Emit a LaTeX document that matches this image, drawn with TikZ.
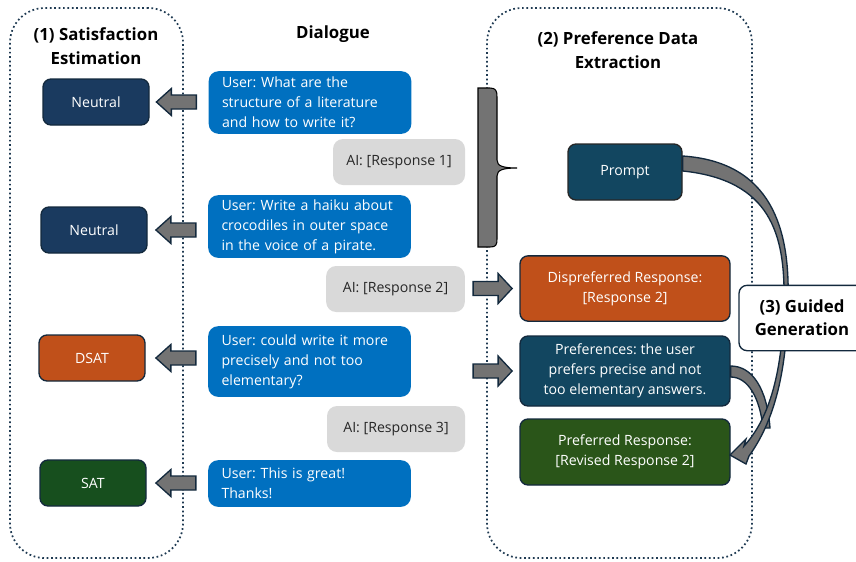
\documentclass[tikz,border=0pt]{standalone}
\usepackage{fontspec}
\setmainfont{Open Sans}
\frenchspacing
\usetikzlibrary{calc}
\definecolor{cnavy}{HTML}{1A3A5F}
\definecolor{cteal}{HTML}{124660}
\definecolor{corange}{HTML}{C0501A}
\definecolor{cgreenA}{HTML}{174F1E}
\definecolor{cgreenB}{HTML}{2A5519}
\definecolor{cblue}{HTML}{0070C0}
\definecolor{cgray}{HTML}{D9D9D9}
\definecolor{cdot}{HTML}{1F3A52}
\definecolor{carrow}{HTML}{737373}
\definecolor{cline}{HTML}{13293D}
\definecolor{ctext}{HTML}{262626}
\begin{document}
\begin{tikzpicture}[x=0.75pt,y=-0.75pt,
  font=\fontsize{10.6}{15}\selectfont,
  container/.style={draw=cdot, dotted, line width=1.3pt, rounded corners=26pt, minimum width=129.75pt, minimum height=412.5pt},
  title/.style={font=\bfseries\fontsize{12.6}{17.5}\selectfont, align=center, text=black},
  box/.style={rounded corners=6pt, draw=cline, line width=1pt, text=white, align=center, inner sep=2pt},
  lbox/.style={box, minimum width=79.5pt, minimum height=34.5pt},
  rbox/.style={box, minimum width=157.5pt},
  ububble/.style={rounded corners=7.5pt, fill=cblue, text=white, align=left, text width=132pt, inner xsep=10pt, inner ysep=2pt},
  aibubble/.style={rounded corners=7.5pt, fill=cgray, text=ctext, align=center, minimum height=34.5pt},
  blockarrow/.style={fill=carrow, draw=cline, line width=1pt, line join=miter},
  larr/.pic={\path[blockarrow] (-52,0) -- (-37,-13.5) -- (-37,-7) -- (-12,-7) -- (-12,7) -- (-37,7) -- (-37,13.5) -- cycle;},
  rarr/.pic={\path[blockarrow] (8,-7) -- (33,-7) -- (33,-15) -- (47,0) -- (33,15) -- (33,7) -- (8,7) -- cycle;}
]
\useasboundingbox (0,0) rectangle (856,561);

% containers
\node[container] (c1) at (96.5,283) {};
\node[container, minimum width=198.75pt] (c2) at (619.5,283) {};

% titles
\node[title] (t1) at (96,46) {(1) Satisfaction\\Estimation};
\node[title] (t2) at (333,34) {Dialogue};
\node[title] (t3) at (618,50) {(2) Preference Data\\Extraction};

% left estimation nodes
\node[lbox, fill=cnavy] (n1) at (96,102) {Neutral};
\node[lbox, fill=cnavy] (n2) at (94,230) {Neutral};
\node[lbox, fill=corange] (n3) at (92,358) {DSAT};
\node[lbox, fill=cgreenA] (n4) at (93,483) {SAT};

% dialogue
\node[ububble, minimum height=47pt] (u1) at (310,102.5) {User: What are the\\structure of a literature\\and how to write it?};
\node[aibubble, minimum width=99pt] (a1) at (399,162) {AI: [Response 1]};
\node[ububble, minimum height=47pt] (u2) at (309.5,226.5) {User: Write a haiku about\\crocodiles in outer space\\in the voice of a pirate.};
\node[aibubble, minimum width=104pt] (a2) at (395.5,289) {AI: [Response 2]};
\node[ububble, minimum height=53pt] (u3) at (309.5,361.5) {User: could write it more\\precisely and not too\\elementary?};
\node[aibubble, minimum width=103.5pt] (a3) at (396,429) {AI: [Response 3]};
\node[ububble, minimum height=35pt] (u4) at (309.5,483.5) {User: This is great!\\Thanks!};

% left block arrows
\pic at (n1.east -| u1.west) {larr};
\pic at (n2.east -| u2.west) {larr};
\pic at (n3.east -| u3.west) {larr};
\pic at (n4.east -| u4.west) {larr};

% brace
\path[fill=carrow, draw=black, line width=0.8pt] (478,88) -- (490,88) .. controls (496,88) and (497,91) .. (497,97)
  -- (497,160) .. controls (497,166) and (503,168) .. (517,168)
  .. controls (503,168) and (497,170) .. (497,176)
  -- (497,239) .. controls (497,245) and (496,247) .. (490,247) -- (478,247) -- cycle;

% right nodes
\node[box, fill=cteal, draw=black!85, minimum width=85.5pt, minimum height=42pt] (p) at (625,172) {Prompt};
\node[rbox, fill=corange, minimum height=49pt] (d) at (625,288.5) {Dispreferred Response:\\{}[Response 2]};
\node[rbox, fill=cteal, minimum height=52.5pt] (f) at (625,371) {Preferences: the user\\prefers precise and not\\too elementary answers.};
\node[rbox, fill=cgreenB, minimum height=49.5pt] (g) at (625,452) {Preferred Response:\\{}[Revised Response 2]};

% right block arrows
\pic at (a2.east |- d.west) {rarr};
\pic at (a2.east |- f.west) {rarr};

% curved arrows
\path (f.east) ++(0,-5) coordinate (fs1) (f.east) ++(0,6) coordinate (fs2);
\path[blockarrow] (fs1) .. controls (752,366) and (767,388) .. (770,428) -- (763,428) .. controls (760,398) and (748,377) .. (fs2) -- cycle;
\path (p.east) ++(0,-16) coordinate (ps1) (p.east) ++(0,-1) coordinate (ps2);
\path[blockarrow] (ps1) .. controls (772,162) and (790,230) .. (788,300)
  .. controls (787,370) and (775,420) .. (749,456) -- (746,464) -- (730,455) -- (746,439) -- (744,446)
  .. controls (770,418) and (783,370) .. (784,300)
  .. controls (785,235) and (771,180) .. (ps2) -- cycle;

% guided generation
\node[box, fill=white, text=black, font=\bfseries\fontsize{12.6}{17.5}\selectfont, minimum width=94.5pt, minimum height=49pt] (gg) at (802,318) {(3) Guided\\Generation};
\end{tikzpicture}
\end{document}
